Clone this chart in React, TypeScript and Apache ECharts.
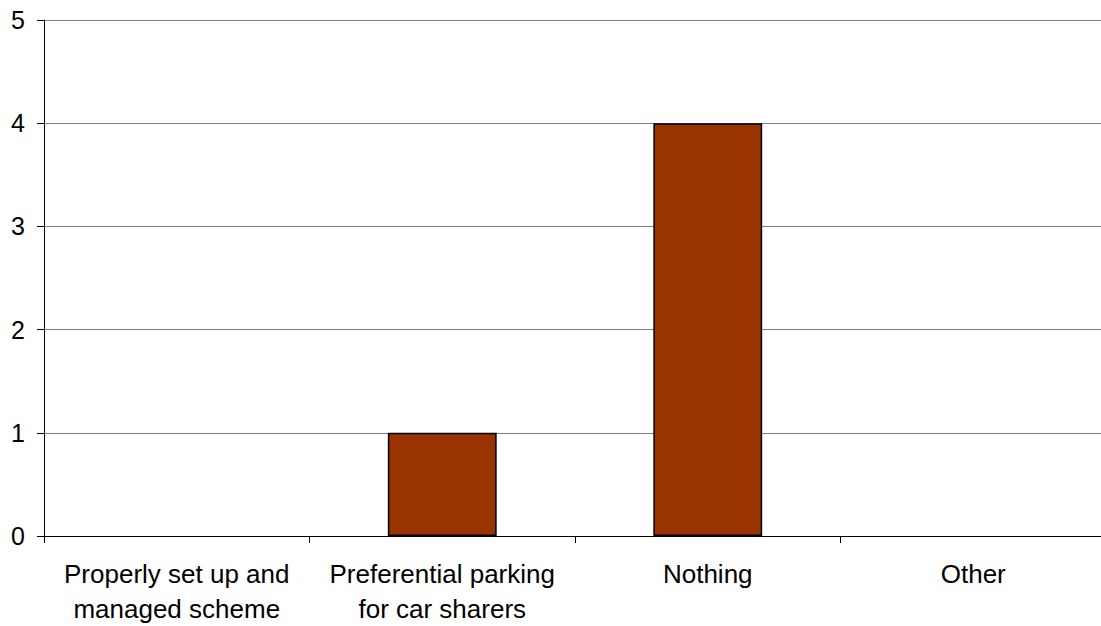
import React, { useEffect, useRef } from "react";
import * as echarts from "echarts";

const categories = [
  "Properly set up and\nmanaged scheme",
  "Preferential parking\nfor car sharers",
  "Nothing",
  "Other",
];
const values = [0, 1, 4, 0];
const yTicks = [0, 1, 2, 3, 4, 5];

export default function App() {
  const ref = useRef<HTMLDivElement>(null);
  useEffect(() => {
    if (!ref.current) return;
    const chart = echarts.init(ref.current, undefined, { renderer: "svg" });
    const font = "'Liberation Sans', Arial, sans-serif";
    chart.setOption({
      animation: false,
      backgroundColor: "#ffffff",
      grid: { left: 44, top: 20, bottom: 90, right: 0, containLabel: false },
      xAxis: {
        type: "category",
        data: categories,
        boundaryGap: true,
        axisLine: { lineStyle: { color: "#000000", width: 1 } },
        axisTick: { show: true, length: 7, lineStyle: { color: "#000000" } },
        axisLabel: {
          color: "#000000",
          fontSize: 26,
          fontFamily: font,
          lineHeight: 35,
          margin: 20,
          interval: 0,
        },
      },
      yAxis: {
        type: "value",
        min: yTicks[0],
        max: yTicks[yTicks.length - 1],
        interval: 1,
        axisLine: { show: true, lineStyle: { color: "#000000", width: 1 } },
        axisTick: { show: true, length: 7, lineStyle: { color: "#000000" } },
        splitLine: { show: true, lineStyle: { color: "#808080", width: 1 } },
        axisLabel: {
          color: "#000000",
          fontSize: 25,
          fontFamily: font,
          margin: 19,
        },
      },
      series: [
        {
          type: "bar",
          data: values.map((v) => (v === 0 ? "-" : v)),
          barWidth: "41%",
          itemStyle: { color: "#993300", borderColor: "#000000", borderWidth: 1.5 },
        },
      ],
    });
    return () => chart.dispose();
  }, []);
  return (
    <div
      ref={ref}
      style={{ position: "fixed", left: 0, top: 0, width: 1106, height: 626, overflow: "hidden" }}
    />
  );
}
